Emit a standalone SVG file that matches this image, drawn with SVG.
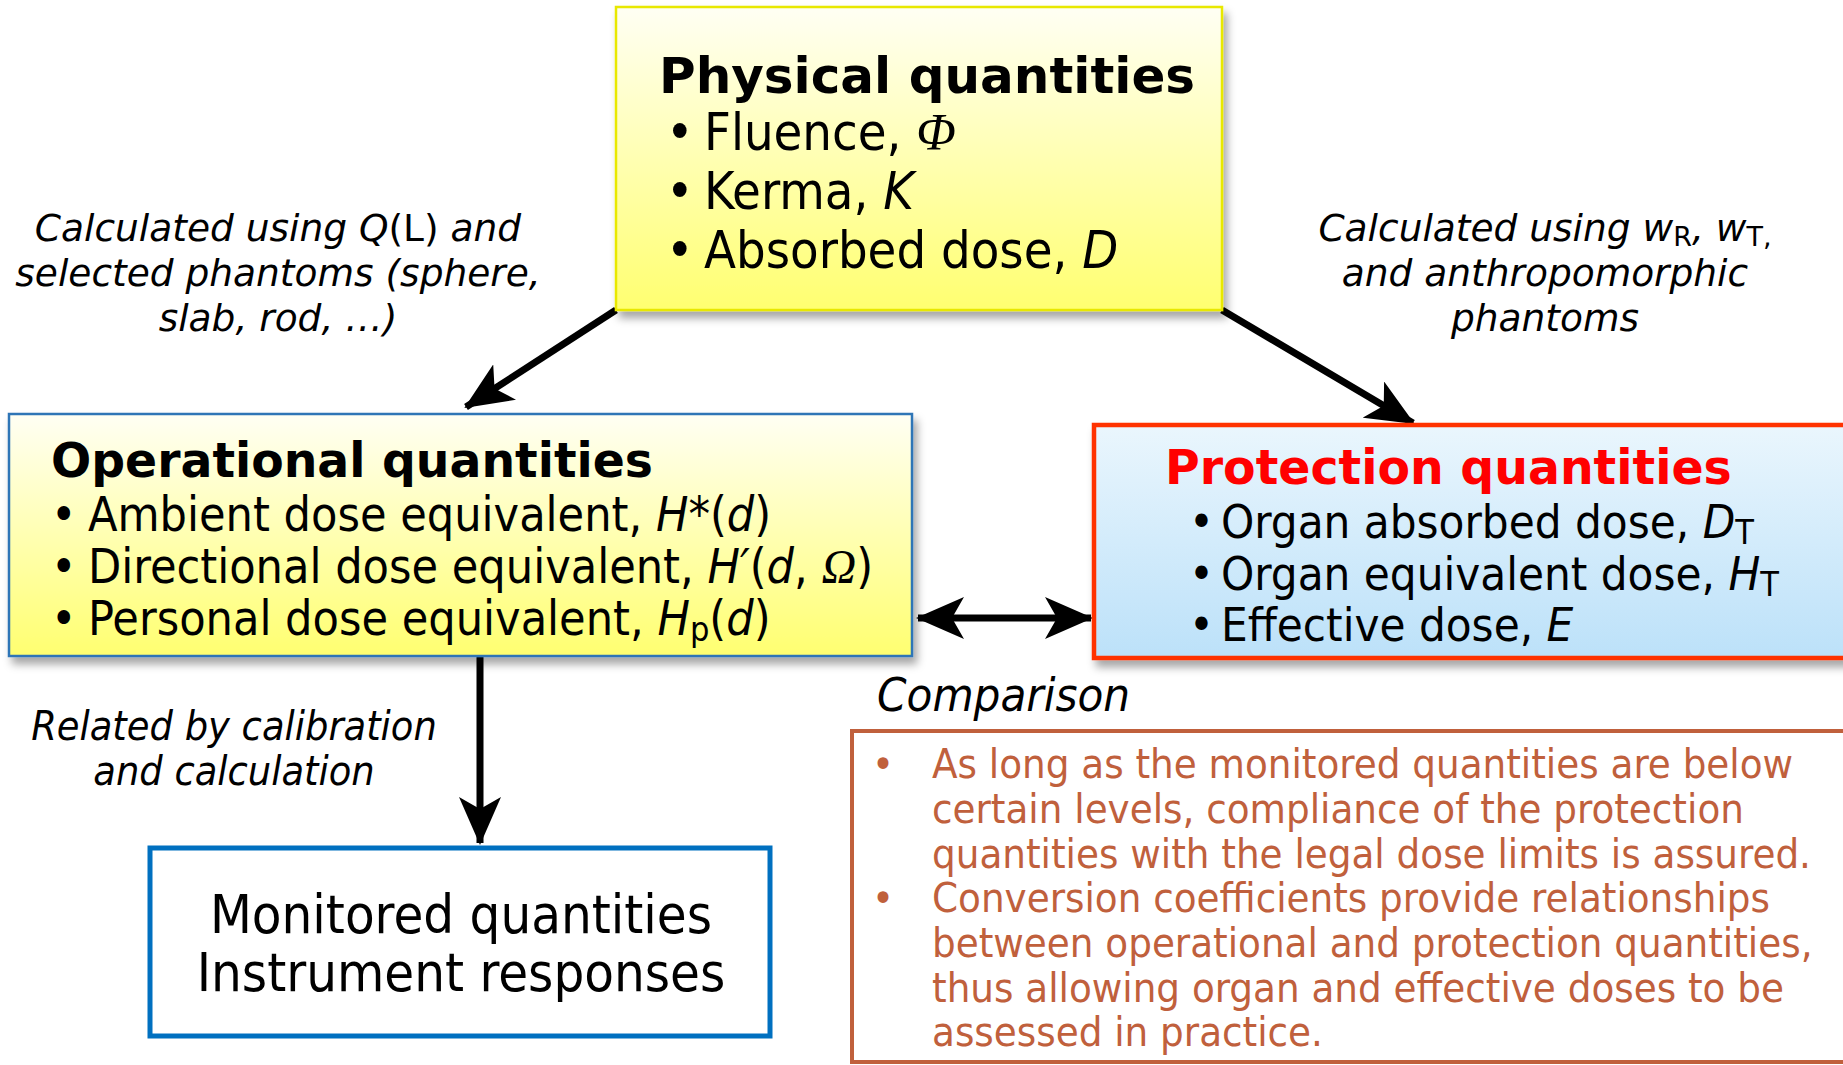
<svg xmlns="http://www.w3.org/2000/svg" width="1843" height="1065" viewBox="0 0 1843 1065">
<defs>
<linearGradient id="gYellow" x1="0" y1="0" x2="0" y2="1">
<stop offset="0" stop-color="#FFFFF4"/>
<stop offset="1" stop-color="#FFFF70"/>
</linearGradient>
<linearGradient id="gBlue" x1="0" y1="0" x2="0" y2="1">
<stop offset="0" stop-color="#EAF6FD"/>
<stop offset="1" stop-color="#BCE1F9"/>
</linearGradient>
<filter id="shadow" x="-5%" y="-5%" width="115%" height="120%">
<feDropShadow dx="4" dy="7" stdDeviation="4" flood-color="#000" flood-opacity="0.35"/>
</filter>
<marker id="ah" markerUnits="userSpaceOnUse" markerWidth="48" markerHeight="42" refX="46" refY="21" orient="auto-start-reverse" viewBox="0 0 48 42">
<path d="M0,0 L48,21 L0,42 L12,21 Z" fill="#000"/>
</marker>
<style>
.t{font-family:"DejaVu Sans","Verdana",sans-serif;fill:#000}
.tb{font-family:"DejaVu Sans","Verdana",sans-serif;font-weight:bold;fill:#000}
.tc{font-family:"DejaVu Sans Condensed","DejaVu Sans",sans-serif;fill:#000}
.lab{font-family:"DejaVu Sans","Verdana",sans-serif;font-style:italic;fill:#000;font-size:37.5px}
.labc{font-family:"DejaVu Sans Condensed","DejaVu Sans",sans-serif;font-style:italic;fill:#000}
.i{font-style:italic}
.n{font-style:normal}
.serif{font-family:"Liberation Serif","Times New Roman",serif;font-style:italic}
.conn{stroke:#000;stroke-width:7;fill:none}
.cmp{font-family:"DejaVu Sans Condensed","DejaVu Sans",sans-serif;fill:#C0603C;font-size:41.5px}
</style>
</defs>

<g id="connectors">
<line class="conn" x1="616" y1="310" x2="466" y2="407" marker-end="url(#ah)"/>
<line class="conn" x1="1222" y1="310" x2="1413" y2="423" marker-end="url(#ah)"/>
<line class="conn" x1="480" y1="656" x2="480" y2="843" marker-end="url(#ah)"/>
<line class="conn" x1="918" y1="618" x2="1091" y2="618" marker-start="url(#ah)" marker-end="url(#ah)"/>
</g>

<g id="physical">
<rect x="616" y="7" width="606" height="303" fill="url(#gYellow)" stroke="#E8E800" stroke-width="2.5" filter="url(#shadow)"/>
<text class="tb" x="659" y="93" font-size="50">Physical quantities</text>
<text class="tc" font-size="52"><tspan x="666" y="150">•</tspan><tspan x="704" y="150">Fluence, <tspan class="serif">Φ</tspan></tspan></text>
<text class="tc" font-size="52"><tspan x="666" y="209">•</tspan><tspan x="704" y="209">Kerma, <tspan class="i">K</tspan></tspan></text>
<text class="tc" font-size="52"><tspan x="666" y="268">•</tspan><tspan x="704" y="268">Absorbed dose, <tspan class="i">D</tspan></tspan></text>
</g>

<g id="operational">
<rect x="9" y="414" width="903" height="242" fill="url(#gYellow)" stroke="#2E75B6" stroke-width="2.5" filter="url(#shadow)"/>
<text class="tb" x="51" y="477" font-size="47.3">Operational quantities</text>
<text class="tc" font-size="48"><tspan x="51" y="531">•</tspan><tspan x="88" y="531">Ambient dose equivalent, <tspan class="i">H</tspan>*(<tspan class="i">d</tspan>)</tspan></text>
<text class="tc" font-size="48"><tspan x="51" y="583">•</tspan><tspan x="88" y="583">Directional dose equivalent, <tspan class="i">H′</tspan>(<tspan class="i">d</tspan>, <tspan class="serif">Ω</tspan>)</tspan></text>
<text class="tc" font-size="48"><tspan x="51" y="635">•</tspan><tspan x="88" y="635">Personal dose equivalent, <tspan class="i">H</tspan><tspan font-size="34" dy="6">p</tspan><tspan dy="-6">(</tspan><tspan class="i">d</tspan>)</tspan></text>
</g>

<g id="protection">
<rect x="1094" y="425" width="760" height="233" fill="url(#gBlue)" stroke="#FF3300" stroke-width="4.5" filter="url(#shadow)"/>
<text class="tb" x="1165" y="484" font-size="47.4" style="fill:#FF0000">Protection quantities</text>
<text class="tc" font-size="47"><tspan x="1189" y="538">•</tspan><tspan x="1221" y="538">Organ absorbed dose, <tspan class="i">D</tspan><tspan font-size="34" dy="6">T</tspan></tspan></text>
<text class="tc" font-size="47"><tspan x="1189" y="590">•</tspan><tspan x="1221" y="590">Organ equivalent dose, <tspan class="i">H</tspan><tspan font-size="34" dy="6">T</tspan></tspan></text>
<text class="tc" font-size="47"><tspan x="1189" y="641">•</tspan><tspan x="1221" y="641">Effective dose, <tspan class="i">E</tspan></tspan></text>
</g>

<g id="monitored">
<rect x="150" y="848" width="620" height="188" fill="#FFFFFF" stroke="#0070C0" stroke-width="5"/>
<text class="tc" x="461" y="933" font-size="54" text-anchor="middle">Monitored quantities</text>
<text class="tc" x="461" y="991" font-size="54" text-anchor="middle">Instrument responses</text>
</g>

<g id="label-left">
<text class="lab" x="278" y="241" text-anchor="middle">Calculated using <tspan>Q</tspan><tspan class="n">(L)</tspan> and</text>
<text class="lab" x="278" y="286" text-anchor="middle">selected phantoms (sphere,</text>
<text class="lab" x="278" y="331" text-anchor="middle">slab, rod, …)</text>
</g>

<g id="label-right">
<text class="lab" x="1545" y="241" text-anchor="middle">Calculated using w<tspan class="n" font-size="27" dy="5">R</tspan><tspan dy="-5">, w</tspan><tspan class="n" font-size="27" dy="5">T,</tspan></text>
<text class="lab" x="1545" y="286" text-anchor="middle">and anthropomorphic</text>
<text class="lab" x="1545" y="331" text-anchor="middle">phantoms</text>
</g>

<g id="label-related">
<text class="labc" x="234" y="740" font-size="41" text-anchor="middle">Related by calibration</text>
<text class="labc" x="234" y="785" font-size="41" text-anchor="middle">and calculation</text>
</g>

<g id="comparison-label">
<text class="labc" x="877" y="711" font-size="47">Comparison</text>
</g>

<g id="comparison">
<rect x="852" y="731" width="1000" height="331" fill="#FFFFFF" stroke="#C0603C" stroke-width="4"/>
<text class="cmp"><tspan x="872" y="778">•</tspan><tspan x="932" y="778">As long as the monitored quantities are below</tspan></text>
<text class="cmp" x="932" y="823">certain levels, compliance of the protection</text>
<text class="cmp" x="932" y="868">quantities with the legal dose limits is assured.</text>
<text class="cmp"><tspan x="872" y="912">•</tspan><tspan x="932" y="912">Conversion coefficients provide relationships</tspan></text>
<text class="cmp" x="932" y="957">between operational and protection quantities,</text>
<text class="cmp" x="932" y="1002">thus allowing organ and effective doses to be</text>
<text class="cmp" x="932" y="1046">assessed in practice.</text>
</g>
</svg>
